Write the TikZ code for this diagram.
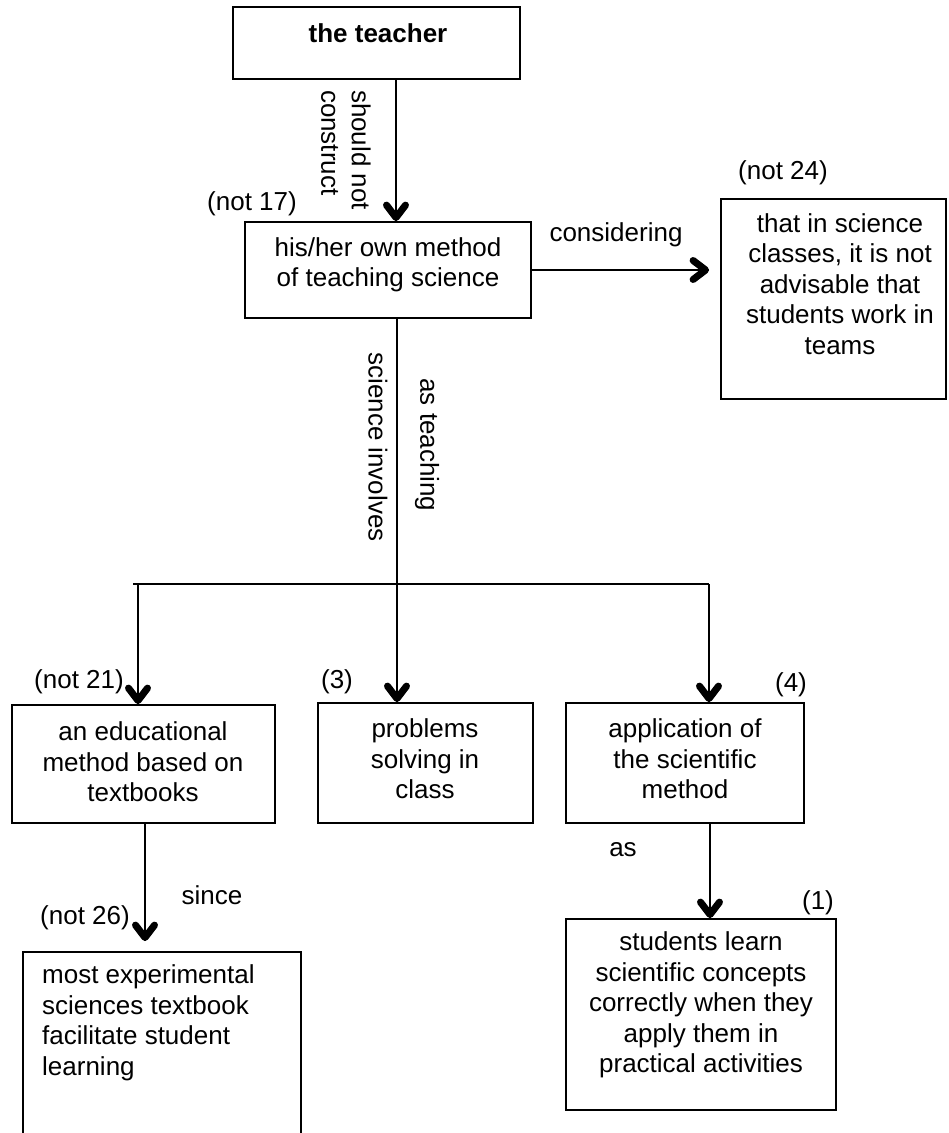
\documentclass[tikz,border=0pt]{standalone}
\usepackage{fontspec}
\setmainfont{Liberation Sans}
\usetikzlibrary{calc}
\begin{document}
\begin{tikzpicture}[x=1pt,y=-1pt,
  box/.style={draw, line width=1.8pt, rectangle, inner sep=0pt},
  txt/.style={align=center, inner sep=0pt, font=\fontsize{26}{30.5}\selectfont},
  lbl/.style={inner sep=0pt, font=\fontsize{26}{30.5}\selectfont},
  link/.style={line width=1.8pt},
  % heavy open chevron at the end of a connector, pointing down by default
  chev/.pic={\draw[line width=7pt, line cap=round, line join=round]
      (-9.5,-16) -- (0,-3.5) -- (9.5,-16);}]
\useasboundingbox (0,0) rectangle (949,1133);
\clip (0,0) rectangle (949,1133);

% boxes
\node[box, minimum width=287pt, minimum height=72pt] (teacher) at (376.5,43) {};
\node[box, minimum width=286pt, minimum height=96pt] (own) at (388,270) {};
\node[box, minimum width=225pt, minimum height=200pt] (teams) at (833.5,299) {};
\node[box, minimum width=263pt, minimum height=118pt] (educ) at (143.5,764) {};
\node[box, minimum width=215pt, minimum height=120pt] (probl) at (425.5,763) {};
\node[box, minimum width=238pt, minimum height=120pt] (appl) at (685,763) {};
\node[box, minimum width=278pt, minimum height=193pt] (book) at (162,1048.5) {};
\node[box, minimum width=270pt, minimum height=191pt] (learn) at (701,1014.5) {};

% box texts
\node[txt, font=\fontsize{26}{30.5}\selectfont\bfseries] (teacherT) at (378,33) {the teacher};
\node[txt] (ownT) at (388,265) {his/her own method\\of teaching science};
\node[txt] (teamsT) at (840,284) {that in science\\classes, it is not\\advisable that\\students work in\\teams};
\node[txt] (educT) at (143,762) {an educational\\method based on\\textbooks};
\node[txt] (problT) at (425,759) {problems\\solving in\\class};
\node[txt] (applT) at (685,759) {application of\\the scientific\\method};
\node[txt, align=left, anchor=west] (bookT) at (42,1023) {most experimental\\sciences textbook\\facilitate student\\learning};
\node[txt] (learnT) at (701,1005) {students learn\\scientific concepts\\correctly when they\\apply them in\\practical activities};

% side labels
\node[lbl] (n17) at (252,204) {(not 17)};
\node[lbl] (n24) at (783,173) {(not 24)};
\node[lbl] (n21) at (79,682) {(not 21)};
\node[lbl] (n3) at (337,682) {(3)};
\node[lbl] (n4) at (791,685) {(4)};
\node[lbl] (n26) at (85,918) {(not 26)};
\node[lbl] (n1) at (818,903) {(1)};

% connector labels
\node[lbl, rotate=-90, align=left] (construct) at (346,150) {should not\\construct};
\node[lbl] (considering) at (616,235) {considering};
\node[lbl, rotate=-90] (involves) at (378,447) {science involves};
\node[lbl, rotate=-90] (asteach) at (427,445) {as teaching};
\node[lbl] (since) at (212,895) {since};
\node[lbl] (as) at (623,850) {as};

% columns and junctions of the connectors
\coordinate (cTop) at (396,0);
\coordinate (fork) at (397,584);
\coordinate (barL) at (133,584);
\coordinate (brL) at (138,584);
\coordinate (brR) at (709,584);
\coordinate (cBook) at (145,0);
\coordinate (cLearn) at (710,0);

% connectors
\draw[link] (teacher.south -| cTop) -- (own.north -| cTop) pic {chev};
\draw[link] (own.east) -- ($(teams.west |- own.east)+(-11,0)$) pic[rotate=90] {chev};
\draw[link] (own.south -| fork) -- (fork);
\draw[link] (barL) -- (brR);
\draw[link] (brL) -- (educ.north -| brL) pic {chev};
\draw[link] (fork) -- (probl.north -| fork) pic {chev};
\draw[link] (brR) -- (appl.north -| brR) pic {chev};
\draw[link] (educ.south -| cBook) -- ($(book.north -| cBook)+(0,-10)$) pic {chev};
\draw[link] (appl.south -| cLearn) -- (learn.north -| cLearn) pic {chev};
\end{tikzpicture}
\end{document}
